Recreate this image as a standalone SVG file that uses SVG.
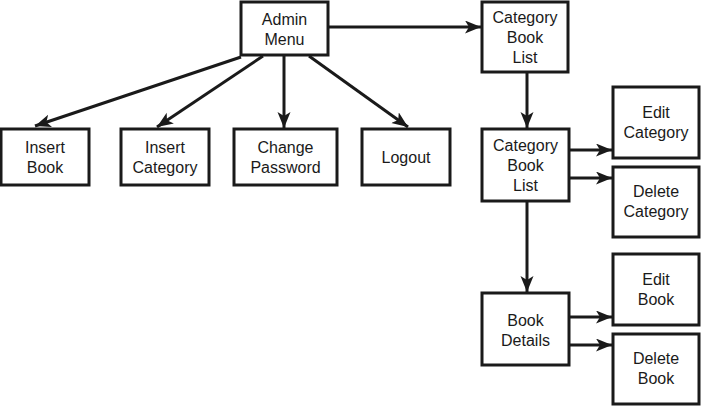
<svg xmlns="http://www.w3.org/2000/svg" width="701" height="406" viewBox="0 0 701 406">
<style>
.box{fill:#fff;stroke:#1a1a1a;stroke-width:3}
.lbl{font-family:"Liberation Sans",Arial,sans-serif;font-size:16px;fill:#1a1a1a;text-anchor:middle}
.con{stroke:#1a1a1a;stroke-width:3;fill:none;marker-end:url(#ah)}
</style>
<defs>
<marker id="ah" markerUnits="userSpaceOnUse" markerWidth="18" markerHeight="14" refX="16" refY="6.5" orient="auto">
<path d="M0,0 L16,6.5 L0,13 L4,6.5 Z" fill="#1a1a1a"/>
</marker>
</defs>
<rect width="701" height="406" fill="#fff"/>
<g id="connectors">
<line class="con" x1="328" y1="27" x2="481" y2="27"/>
<line class="con" x1="241" y1="57" x2="35" y2="126"/>
<line class="con" x1="263" y1="56" x2="157" y2="127"/>
<line class="con" x1="284" y1="56" x2="284" y2="128"/>
<line class="con" x1="309" y1="56" x2="408" y2="127"/>
<line class="con" x1="527" y1="72" x2="527" y2="128"/>
<line class="con" x1="569" y1="150" x2="612" y2="150"/>
<line class="con" x1="569" y1="178" x2="612" y2="178"/>
<line class="con" x1="527" y1="201" x2="527" y2="292"/>
<line class="con" x1="569" y1="317" x2="612" y2="317"/>
<line class="con" x1="569" y1="345" x2="612" y2="345"/>
</g>
<g id="admin-menu"><rect class="box" x="241" y="2" width="87" height="53"/><text class="lbl" x="284.5" y="25">Admin</text><text class="lbl" x="284.5" y="45">Menu</text></g>
<g id="category-book-list-1"><rect class="box" x="482" y="2" width="86" height="70"/><text class="lbl" x="525" y="23">Category</text><text class="lbl" x="525" y="43">Book</text><text class="lbl" x="525" y="63">List</text></g>
<g id="insert-book"><rect class="box" x="1" y="129" width="88" height="56"/><text class="lbl" x="45" y="153">Insert</text><text class="lbl" x="45" y="173">Book</text></g>
<g id="insert-category"><rect class="box" x="121" y="129" width="88" height="56"/><text class="lbl" x="165" y="153">Insert</text><text class="lbl" x="165" y="173">Category</text></g>
<g id="change-password"><rect class="box" x="234" y="129" width="103" height="56"/><text class="lbl" x="285.5" y="153">Change</text><text class="lbl" x="285.5" y="173">Password</text></g>
<g id="logout"><rect class="box" x="362" y="129" width="88" height="56"/><text class="lbl" x="406" y="163">Logout</text></g>
<g id="category-book-list-2"><rect class="box" x="482" y="129" width="87" height="72"/><text class="lbl" x="525.5" y="151">Category</text><text class="lbl" x="525.5" y="171">Book</text><text class="lbl" x="525.5" y="191">List</text></g>
<g id="edit-category"><rect class="box" x="613" y="87" width="86" height="71"/><text class="lbl" x="656" y="118">Edit</text><text class="lbl" x="656" y="138">Category</text></g>
<g id="delete-category"><rect class="box" x="613" y="167" width="86" height="70"/><text class="lbl" x="656" y="197">Delete</text><text class="lbl" x="656" y="217">Category</text></g>
<g id="book-details"><rect class="box" x="482" y="293" width="87" height="72"/><text class="lbl" x="525.5" y="326">Book</text><text class="lbl" x="525.5" y="346">Details</text></g>
<g id="edit-book"><rect class="box" x="613" y="254" width="86" height="71"/><text class="lbl" x="656" y="285">Edit</text><text class="lbl" x="656" y="305">Book</text></g>
<g id="delete-book"><rect class="box" x="613" y="334" width="86" height="70"/><text class="lbl" x="656" y="364">Delete</text><text class="lbl" x="656" y="384">Book</text></g>
</svg>
